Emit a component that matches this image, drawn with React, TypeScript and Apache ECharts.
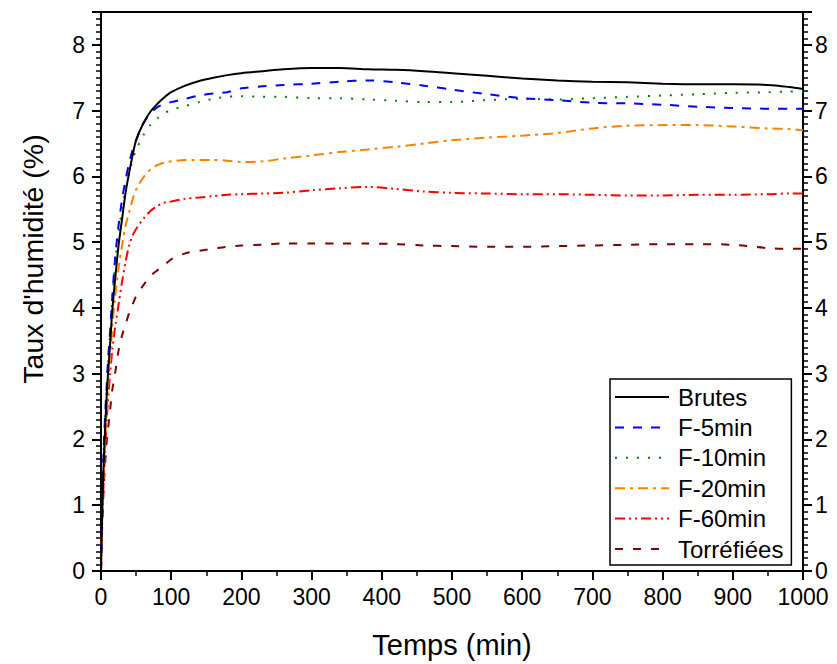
import React, { useEffect, useRef } from "react";
import * as echarts from "echarts";

const FONT = "Arial";

// time (min)
const TIME = [0, 1, 2, 4, 6, 8, 10, 13, 16, 20, 25, 30, 35, 40, 45, 50, 60, 70, 80, 90, 100, 120, 140, 160, 180, 200, 230, 260, 300, 340, 380, 420, 460, 500, 550, 600, 650, 700, 750, 800, 850, 900, 950, 980, 1000];

const BRUTES = [0, 0.6, 1.0, 1.7, 2.2, 2.65, 3.0, 3.45, 3.95, 4.42, 4.95, 5.35, 5.75, 6.05, 6.32, 6.55, 6.8, 6.98, 7.1, 7.2, 7.28, 7.38, 7.45, 7.5, 7.54, 7.57, 7.6, 7.63, 7.65, 7.65, 7.63, 7.62, 7.6, 7.57, 7.53, 7.49, 7.46, 7.44, 7.43, 7.41, 7.4, 7.4, 7.39, 7.36, 7.33];
const F5 = [0, 0.7, 1.2, 1.9, 2.4, 2.8, 3.2, 3.65, 4.15, 4.75, 5.25, 5.65, 5.95, 6.2, 6.4, 6.55, 6.8, 6.95, 7.05, 7.1, 7.13, 7.18, 7.23, 7.26, 7.28, 7.34, 7.37, 7.39, 7.41, 7.44, 7.46, 7.43, 7.38, 7.32, 7.25, 7.19, 7.16, 7.12, 7.11, 7.09, 7.06, 7.04, 7.03, 7.03, 7.03];
const F10 = [0, 0.7, 1.15, 1.85, 2.35, 2.75, 3.1, 3.6, 4.1, 4.65, 5.15, 5.5, 5.8, 6.05, 6.25, 6.4, 6.62, 6.78, 6.88, 6.96, 7.01, 7.07, 7.13, 7.18, 7.21, 7.22, 7.21, 7.21, 7.19, 7.19, 7.17, 7.15, 7.13, 7.13, 7.16, 7.18, 7.17, 7.19, 7.21, 7.23, 7.25, 7.27, 7.28, 7.29, 7.29];
const F20 = [0, 0.5, 0.9, 1.5, 2.0, 2.4, 2.8, 3.2, 3.7, 4.15, 4.6, 4.95, 5.25, 5.45, 5.65, 5.8, 5.98, 6.1, 6.17, 6.21, 6.23, 6.25, 6.25, 6.25, 6.24, 6.22, 6.23, 6.27, 6.32, 6.37, 6.41, 6.45, 6.5, 6.55, 6.59, 6.62, 6.66, 6.73, 6.77, 6.78, 6.78, 6.76, 6.73, 6.72, 6.7];
const F60 = [0, 0.45, 0.85, 1.4, 1.85, 2.25, 2.6, 3.0, 3.35, 3.7, 4.05, 4.4, 4.7, 4.95, 5.1, 5.2, 5.35, 5.47, 5.55, 5.6, 5.62, 5.66, 5.68, 5.7, 5.72, 5.73, 5.74, 5.75, 5.79, 5.82, 5.84, 5.81, 5.77, 5.75, 5.74, 5.73, 5.73, 5.72, 5.71, 5.71, 5.72, 5.72, 5.73, 5.74, 5.74];
const TORR = [0, 0.5, 0.75, 1.3, 1.65, 1.95, 2.15, 2.45, 2.75, 3.0, 3.35, 3.58, 3.75, 3.92, 4.05, 4.18, 4.34, 4.48, 4.57, 4.65, 4.74, 4.83, 4.87, 4.9, 4.93, 4.95, 4.96, 4.98, 4.98, 4.98, 4.98, 4.97, 4.95, 4.94, 4.93, 4.93, 4.94, 4.95, 4.96, 4.97, 4.97, 4.96, 4.91, 4.9, 4.9];

const NAMES = ["Brutes", "F-5min", "F-10min", "F-20min", "F-60min", "Torréfiées"];
const VALUES = [BRUTES, F5, F10, F20, F60, TORR];
const COLORS = ["#000000", "#0000ff", "#008000", "#ff8000", "#ff0000", "#800000"];
const DASHES: any[] = ["solid", [9, 9], [2, 9], [10, 5, 3, 5], [10, 4, 2, 4, 2, 4], [8, 10]];

const X_TITLE = "Temps (min)";
const Y_TITLE = "Taux d'humidité (%)";

export default function App() {
  const ref = useRef<HTMLDivElement>(null);
  useEffect(() => {
    const chart = echarts.init(ref.current!, null, { renderer: "svg" });
    const axisLine = { show: true, onZero: false, lineStyle: { color: "#000", width: 2 } };
    const tick = { show: true, inside: false, length: 9, lineStyle: { color: "#000", width: 2 } };
    const label = { color: "#000", fontSize: 23, fontFamily: FONT, formatter: (v: number) => String(v) };
    const yAxisBase = (pos: "left" | "right") => ({
      type: "value",
      position: pos,
      min: 0,
      max: 8.5,
      interval: 1,
      axisLine,
      axisTick: tick,
      minorTick: { show: true, splitNumber: 10, length: 5, lineStyle: { color: "#000", width: 1.5 } },
      axisLabel: { ...label, margin: pos === "left" ? 16 : 12, showMaxLabel: false },
      splitLine: { show: false },
      minorSplitLine: { show: false },
    });
    chart.setOption({
      animation: false,
      backgroundColor: "#fff",
      textStyle: { fontFamily: FONT },
      grid: { left: 101, right: 34, top: 12, bottom: 87, containLabel: false },
      xAxis: [
        {
          type: "value",
          position: "bottom",
          min: 0,
          max: 1000,
          interval: 100,
          axisLine,
          axisTick: tick,
          minorTick: { show: true, splitNumber: 2, length: 5, lineStyle: { color: "#000", width: 1.5 } },
          axisLabel: { ...label, margin: 14 },
          splitLine: { show: false },
          name: X_TITLE,
          nameLocation: "middle",
          nameGap: 59,
          nameTextStyle: { color: "#000", fontSize: 29, fontFamily: FONT },
        },
        {
          type: "value",
          position: "top",
          min: 0,
          max: 1000,
          axisLine,
          axisTick: { show: false },
          axisLabel: { show: false },
          splitLine: { show: false },
        },
      ],
      yAxis: [yAxisBase("left"), yAxisBase("right")],
      legend: {
        orient: "vertical",
        left: 610,
        top: 379,
        padding: [6, 8, 4, 4],
        itemWidth: 54,
        itemHeight: 24,
        itemGap: 6.4,
        borderColor: "#000",
        borderWidth: 1.5,
        backgroundColor: "#fff",
        data: NAMES,
        itemStyle: { opacity: 0 },
        textStyle: { color: "#000", fontSize: 24, fontFamily: FONT, lineHeight: 24, padding: [0, 0, 0, 4] },
      },
      graphic: [
        {
          type: "text",
          x: 33,
          y: 259,
          rotation: Math.PI / 2,
          style: { text: Y_TITLE, fill: "#000", fontSize: 28.5, fontFamily: FONT, align: "center", verticalAlign: "middle" },
        },
      ],
      series: NAMES.map((name, i) => ({
        name,
        type: "line",
        xAxisIndex: 0,
        yAxisIndex: 0,
        symbol: "none",
        showSymbol: false,
        smooth: 0.3,
        data: TIME.map((t, k) => [t, VALUES[i][k]]),
        lineStyle: { color: COLORS[i], width: 2, type: DASHES[i] },
        itemStyle: { color: COLORS[i] },
        z: 10 - i,
      })),
    });
    return () => chart.dispose();
  }, []);
  return <div ref={ref} style={{ position: "absolute", left: 0, top: 0, width: 837, height: 664, background: "#fff" }} />;
}
